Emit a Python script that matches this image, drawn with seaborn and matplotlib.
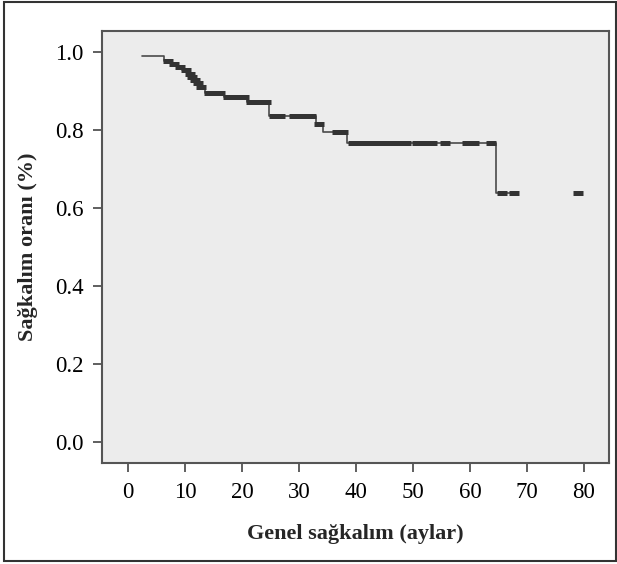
import numpy as np
import pandas as pd
import matplotlib.pyplot as plt
import matplotlib.patches as patches
import seaborn as sns

# Kaplan-Meier steps: event times (months) and survival after each event
start_time = 2.5
start_surv = 0.99
event_times = [6.4, 7.5, 8.7, 9.4, 10.7, 11.1, 11.5, 12.0, 12.6, 13.5,
               16.9, 20.9, 24.8, 33.0, 34.2, 38.4, 64.6]
event_surv = [0.978, 0.969, 0.962, 0.954, 0.945, 0.937, 0.928, 0.921, 0.911, 0.896,
              0.885, 0.873, 0.837, 0.815, 0.796, 0.767, 0.639]
line_end = 68.0

# censored observations (months)
censor_times = [7.0, 8.1, 9.1, 10.1, 10.9, 11.3, 11.8, 12.3, 12.9,
                14.2, 15.2, 16.2, 17.5, 18.5, 19.5, 20.3,
                21.6, 22.6, 23.6, 24.3, 25.6, 26.6, 29.2, 30.2, 31.2, 32.2,
                33.6, 36.6, 37.7,
                39.5, 40.5, 41.5, 42.5, 43.5, 44.3, 45.5, 46.5, 47.5, 48.8,
                50.8, 52.0, 53.3, 55.7, 59.5, 60.8, 63.7,
                65.6, 67.7, 79.0]

x_ticks = [0, 10, 20, 30, 40, 50, 60, 70, 80]
y_ticks = [0.0, 0.2, 0.4, 0.6, 0.8, 1.0]

# build the step curve
curve = pd.DataFrame({
    'time': [start_time] + event_times + [line_end],
    'surv': [start_surv] + event_surv + [event_surv[-1]],
})

def surv_at(t):
    idx = np.searchsorted(event_times, t, side='right') - 1
    return start_surv if idx < 0 else event_surv[idx]

censored = pd.DataFrame({'time': censor_times,
                         'surv': [surv_at(t) for t in censor_times]})

sns.set_style('ticks')
plt.rcParams['font.family'] = ['Liberation Serif', 'DejaVu Serif']

fig = plt.figure(figsize=(6.17, 5.64), dpi=100)
ax = fig.add_axes([102 / 617, 1 - 463 / 564, 507 / 617, 432 / 564])
ax.set_facecolor('#ececec')

sns.lineplot(data=curve, x='time', y='surv', ax=ax, estimator=None, sort=False,
             drawstyle='steps-post', color='#4a4a4a', linewidth=1.2)
sns.scatterplot(data=censored, x='time', y='surv', ax=ax, marker='_',
                s=50, linewidth=3.6, color='#333333', zorder=3)

ax.set_xlim(-4.55, 84.4)
ax.set_ylim(-0.055, 1.055)
ax.set_xticks(x_ticks)
ax.set_xticklabels([str(v) for v in x_ticks])
ax.set_yticks(y_ticks)
ax.set_yticklabels([f'{v:.1f}' for v in y_ticks])
ax.tick_params(axis='both', direction='out', length=6.5, width=1.2,
               color='#444444', labelsize=16.5, labelcolor='black')
ax.tick_params(axis='x', pad=7)
ax.tick_params(axis='y', pad=7)

for side in ['top', 'right', 'bottom', 'left']:
    ax.spines[side].set_visible(True)
    ax.spines[side].set_color('#555555')
    ax.spines[side].set_linewidth(1.5)

ax.set_xlabel('Genel sağkalım (aylar)', fontsize=16, fontweight='bold', labelpad=15)
ax.set_ylabel('Sağkalım oranı (%)', fontsize=16, fontweight='bold', labelpad=12)

# frame around the whole figure
frame = patches.Rectangle((4 / 617, 1 - 561 / 564), 612 / 617, 559 / 564,
                          transform=fig.transFigure, fill=False,
                          edgecolor='#333333', linewidth=1.5)
fig.patches.append(frame)

fig.savefig('out.png', dpi=100)
plt.close(fig)
